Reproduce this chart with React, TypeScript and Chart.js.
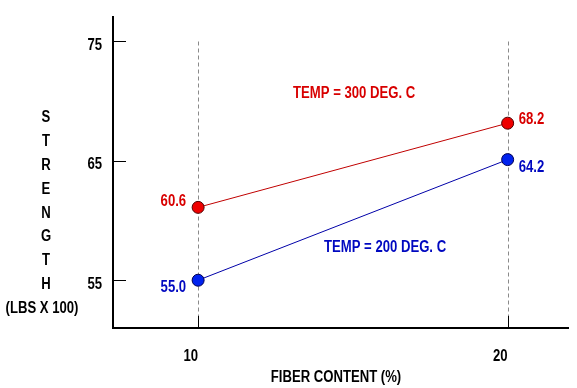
import React, { useEffect, useRef } from "react";
import { Chart, registerables } from "chart.js";

Chart.register(...registerables);

// ---- data ----
const fiberContent = [10, 20];
const temp300 = [61.1, 68.15];
const temp200 = [55.0, 65.1];
const temp300Labels = ["60.6", "68.2"];
const temp200Labels = ["55.0", "64.2"];
const xTicks = [10, 20];
const yTicks = [55, 65, 75];
const yTitleLetters = ["S", "T", "R", "E", "N", "G", "T", "H"];
const yTitleUnits = "(LBS X 100)";
const xTitle = "FIBER CONTENT (%)";
const series300Name = "TEMP = 300 DEG. C";
const series200Name = "TEMP = 200 DEG. C";

const FAMILY = '"Liberation Sans", Arial, sans-serif';
const FONT = `bold 16px ${FAMILY}`;
const SQUEEZE = 0.82;
const RED_TEXT = "#d80000";
const BLUE_TEXT = "#0008c0";

function drawText(ctx: CanvasRenderingContext2D, text: string, x: number, y: number, align: CanvasTextAlign, color: string) {
  ctx.save();
  ctx.translate(x, y);
  ctx.scale(SQUEEZE, 1);
  ctx.font = FONT;
  ctx.textBaseline = "middle";
  ctx.textAlign = align;
  ctx.fillStyle = color;
  ctx.fillText(text, 0, 0);
  ctx.restore();
}

const overlayPlugin = {
  id: "overlay",
  beforeDatasetsDraw(chart: any) {
    const { ctx, chartArea, scales } = chart;
    const x = scales.x;
    const y = scales.y;
    ctx.save();
    ctx.strokeStyle = "#8a8a8a";
    ctx.lineWidth = 1;
    ctx.setLineDash([4, 3]);
    const topY = Math.round(y.getPixelForValue(yTicks[yTicks.length - 1])) + 0.5;
    for (const t of x.ticks) {
      const px = Math.round(x.getPixelForValue(t.value)) + 0.5;
      ctx.beginPath();
      ctx.moveTo(px, topY);
      ctx.lineTo(px, chartArea.bottom - 12);
      ctx.stroke();
    }
    ctx.setLineDash([]);
    ctx.strokeStyle = "#000";
    for (const t of x.ticks) {
      const px = Math.round(x.getPixelForValue(t.value)) + 0.5;
      ctx.beginPath();
      ctx.moveTo(px, chartArea.bottom);
      ctx.lineTo(px, chartArea.bottom - 12);
      ctx.stroke();
    }
    for (const t of y.ticks) {
      const py = Math.round(y.getPixelForValue(t.value)) + 0.5;
      ctx.beginPath();
      ctx.moveTo(chartArea.left, py);
      ctx.lineTo(chartArea.left + 13, py);
      ctx.stroke();
    }
    ctx.restore();
  },
  afterDraw(chart: any) {
    const { ctx, scales, chartArea } = chart;
    const x = scales.x;
    const y = scales.y;

    // tick labels (from the library's scale ticks)
    for (const t of x.ticks) {
      drawText(ctx, String(t.value), x.getPixelForValue(t.value), chartArea.bottom + 29, "right", "#000");
    }
    for (const t of y.ticks) {
      drawText(ctx, String(t.value), chartArea.left - 11, y.getPixelForValue(t.value) + 4, "right", "#000");
    }

    // axis titles
    yTitleLetters.forEach((ch, i) => {
      drawText(ctx, ch, 46, 118 + i * 23.8, "center", "#000");
    });
    drawText(ctx, yTitleUnits, 42, 309, "center", "#000");
    drawText(ctx, xTitle, 336, 378, "center", "#000");

    // value labels
    const m300 = chart.getDatasetMeta(0).data;
    const m200 = chart.getDatasetMeta(1).data;
    drawText(ctx, temp300Labels[0], m300[0].x - 12, m300[0].y - 6, "right", RED_TEXT);
    drawText(ctx, temp300Labels[1], m300[1].x + 11, m300[1].y - 4, "left", RED_TEXT);
    drawText(ctx, temp200Labels[0], m200[0].x - 12, m200[0].y + 7, "right", BLUE_TEXT);
    drawText(ctx, temp200Labels[1], m200[1].x + 11, m200[1].y + 8, "left", BLUE_TEXT);

    // series names
    drawText(ctx, series300Name, x.getPixelForValue(15.04), y.getPixelForValue(70.6), "center", RED_TEXT);
    drawText(ctx, series200Name, x.getPixelForValue(16.04), y.getPixelForValue(57.7), "center", BLUE_TEXT);
  },
};

export default function App() {
  const canvasRef = useRef<HTMLCanvasElement | null>(null);

  useEffect(() => {
    if (!canvasRef.current) return;
    const chart = new Chart(canvasRef.current, {
      type: "line",
      data: {
        datasets: [
          {
            label: series300Name,
            data: fiberContent.map((v, i) => ({ x: v, y: temp300[i] })),
            borderColor: "#c00000",
            borderWidth: 1,
            pointRadius: 6,
            pointBackgroundColor: "#ee0000",
            pointBorderColor: "#500000",
            pointBorderWidth: 1,
            fill: false,
          },
          {
            label: series200Name,
            data: fiberContent.map((v, i) => ({ x: v, y: temp200[i] })),
            borderColor: "#0000a8",
            borderWidth: 1,
            pointRadius: 6,
            pointBackgroundColor: "#0022ee",
            pointBorderColor: "#000050",
            pointBorderWidth: 1,
            fill: false,
          },
        ],
      },
      options: {
        animation: false,
        responsive: false,
        maintainAspectRatio: false,
        layout: { padding: { left: 0, right: 9, top: 17, bottom: 0 } },
        plugins: {
          legend: { display: false },
          tooltip: { enabled: false },
          title: { display: false },
        },
        scales: {
          x: {
            type: "linear",
            min: 7.25,
            max: 21.95,
            afterBuildTicks: (scale: any) => {
              scale.ticks = xTicks.map((v) => ({ value: v }));
            },
            afterFit: (scale: any) => {
              scale.height = 60;
            },
            grid: { display: false, drawTicks: false },
            border: { display: true, color: "#000", width: 2 },
            ticks: { display: false },
          },
          y: {
            type: "linear",
            min: 51,
            max: 77.04,
            afterBuildTicks: (scale: any) => {
              scale.ticks = yTicks.map((v) => ({ value: v }));
            },
            afterFit: (scale: any) => {
              scale.width = 113;
            },
            grid: { display: false, drawTicks: false },
            border: { display: true, color: "#000", width: 2 },
            ticks: { display: false },
          },
        },
      },
      plugins: [overlayPlugin],
    });
    return () => chart.destroy();
  }, []);

  return (
    <div style={{ position: "fixed", left: 0, top: 0, width: 577, height: 388, background: "#fff" }}>
      <canvas ref={canvasRef} width={577} height={388} style={{ width: 577, height: 388, display: "block" }} />
    </div>
  );
}
